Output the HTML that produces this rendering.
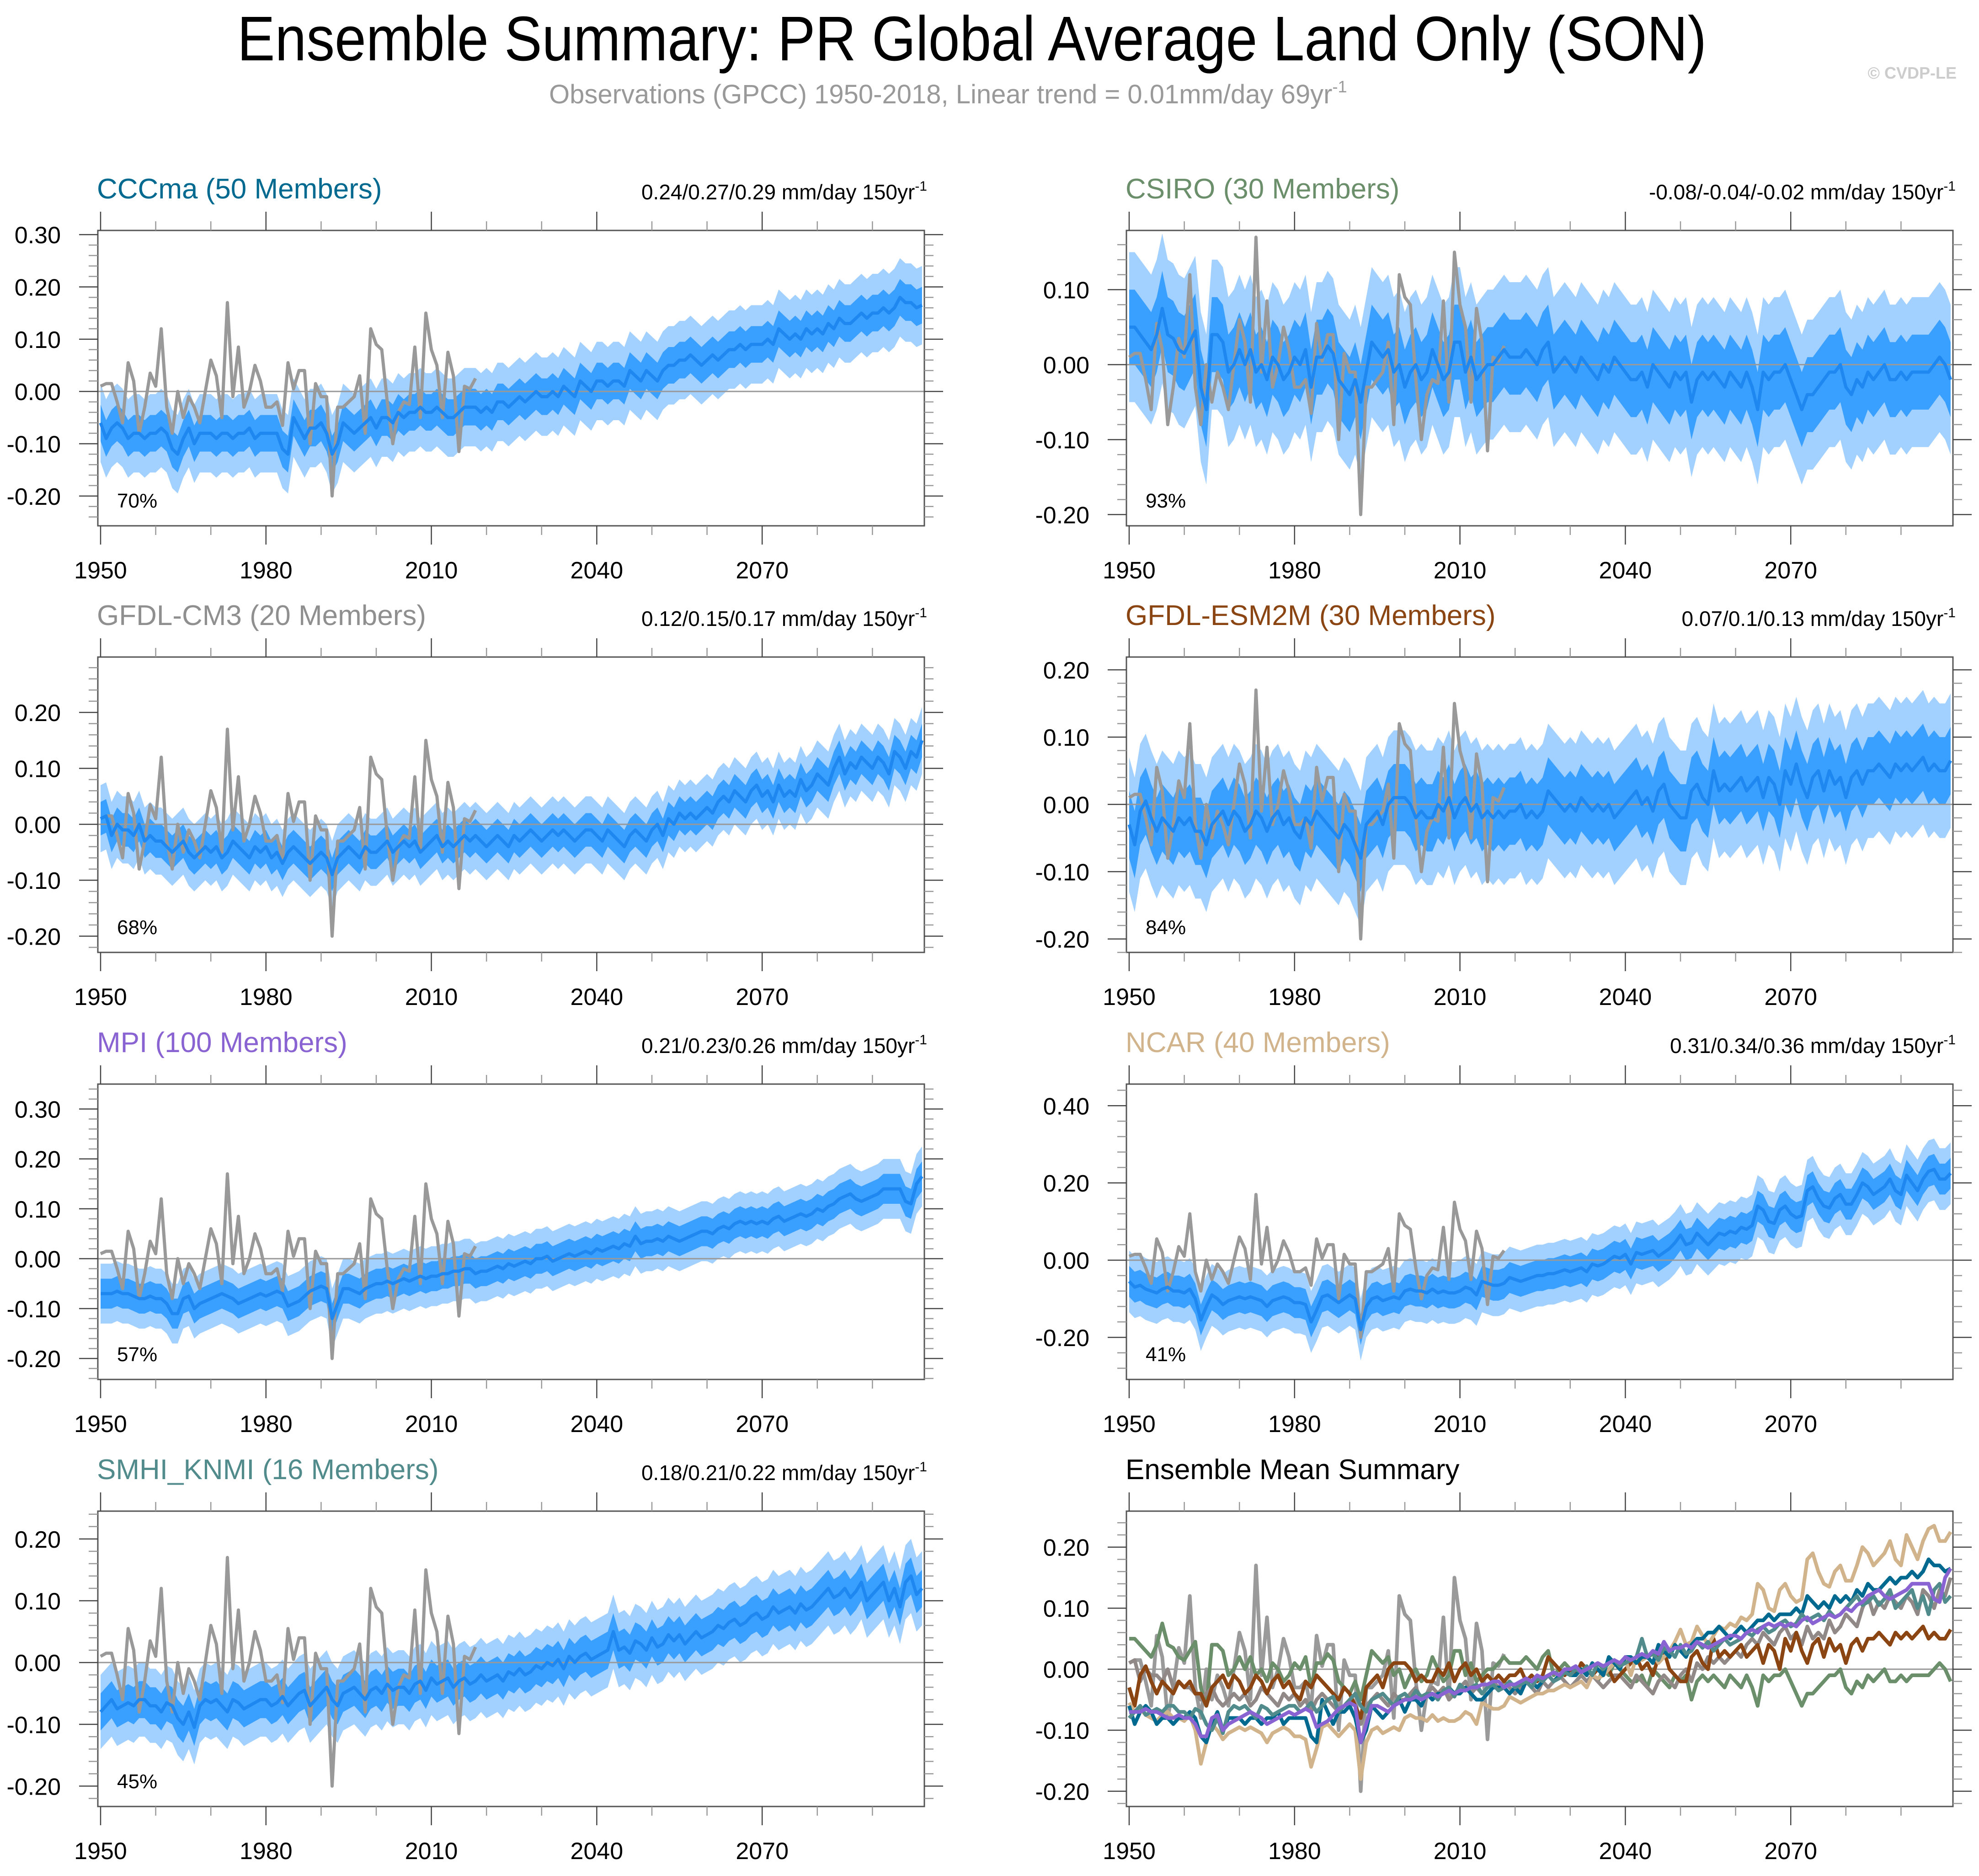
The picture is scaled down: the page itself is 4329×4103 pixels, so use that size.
<!DOCTYPE html>
<html><head><meta charset="utf-8"><title>Ensemble Summary PR</title>
<style>html,body{margin:0;padding:0;background:#fff}svg{display:block}text{font-family:"Liberation Sans",Arial,sans-serif}</style></head>
<body>
<svg id="fig" xmlns="http://www.w3.org/2000/svg" width="4329" height="4103" viewBox="0 0 4329 4103">
<rect x="0" y="0" width="4329" height="4103" fill="#fff"/>
<text x="2126" y="132" font-size="138" text-anchor="middle" textLength="3214" lengthAdjust="spacingAndGlyphs" fill="#000">Ensemble Summary: PR Global Average Land Only (SON)</text>
<text x="1201" y="226" font-size="58" fill="#999">Observations (GPCC) 1950-2018, Linear trend = 0.01mm/day 69yr<tspan dy="-24" font-size="36">-1</tspan></text>
<text x="4280" y="172" font-size="36" font-weight="bold" text-anchor="end" fill="#ccc">© CVDP-LE</text>
<g id="panels"></g>
</svg>
<script>
const years = [];
for (let y = 1950; y <= 2099; y++) years.push(y);
const obsYears = [];
for (let y = 1950; y <= 2018; y++) obsYears.push(y);

const obs = [0.01,0.015,0.015,-0.02,-0.06,0.055,0.02,-0.08,-0.03,0.035,0.01,0.12,-0.03,-0.08,0.0,-0.05,-0.01,-0.03,-0.06,0.0,0.06,0.03,-0.05,0.17,-0.01,0.085,-0.03,0.0,0.05,0.02,-0.03,-0.03,-0.02,-0.065,0.055,0.005,0.04,0.04,-0.1,0.015,-0.01,-0.01,-0.2,-0.03,-0.03,-0.02,-0.01,0.03,-0.08,0.12,0.09,0.08,-0.02,-0.1,-0.04,-0.02,-0.025,0.085,-0.05,0.15,0.08,0.05,-0.05,0.075,0.03,-0.115,0.01,0.005,0.025];

const meanCCCma = [-0.06,-0.09,-0.07,-0.06,-0.07,-0.09,-0.08,-0.08,-0.09,-0.08,-0.08,-0.07,-0.08,-0.11,-0.12,-0.09,-0.07,-0.10,-0.08,-0.08,-0.08,-0.09,-0.08,-0.08,-0.09,-0.08,-0.08,-0.07,-0.09,-0.08,-0.08,-0.08,-0.08,-0.11,-0.12,-0.05,-0.07,-0.09,-0.07,-0.07,-0.06,-0.08,-0.12,-0.10,-0.06,-0.07,-0.08,-0.07,-0.06,-0.05,-0.07,-0.05,-0.05,-0.06,-0.04,-0.05,-0.04,-0.04,-0.03,-0.04,-0.04,-0.03,-0.04,-0.05,-0.05,-0.04,-0.03,-0.03,-0.03,-0.04,-0.03,-0.04,-0.02,-0.02,-0.03,-0.02,-0.01,-0.02,-0.01,0.0,-0.01,-0.01,0.0,-0.01,0.01,0.0,-0.01,0.02,0.01,0.0,0.02,0.02,0.01,0.02,0.02,0.01,0.04,0.03,0.02,0.04,0.03,0.02,0.04,0.05,0.05,0.06,0.06,0.07,0.06,0.05,0.06,0.07,0.06,0.07,0.08,0.08,0.09,0.08,0.09,0.09,0.09,0.10,0.09,0.12,0.11,0.10,0.11,0.10,0.12,0.11,0.12,0.11,0.13,0.12,0.14,0.13,0.13,0.14,0.15,0.14,0.15,0.15,0.16,0.15,0.16,0.18,0.17,0.17,0.16,0.165];
const meanCSIRO = [0.05,0.05,0.04,0.03,0.02,0.04,0.075,0.04,0.035,0.02,0.015,0.03,0.045,-0.03,-0.06,0.04,0.04,0.03,-0.01,0.0,0.02,0.0,0.02,-0.01,0.0,-0.02,0.01,0.0,-0.02,-0.01,0.01,0.0,0.02,-0.03,0.01,0.01,0.025,0.015,-0.02,-0.03,-0.04,-0.02,-0.05,-0.01,0.03,0.02,0.01,0.02,-0.01,0.0,-0.03,-0.01,0.0,-0.02,-0.01,0.02,0.0,-0.02,-0.01,0.03,0.03,-0.01,0.01,-0.02,-0.01,0.0,0.0,0.01,0.02,0.01,0.01,0.01,0.02,0.01,0.0,0.02,0.03,-0.01,0.0,0.01,0.0,-0.01,0.01,0.0,-0.01,-0.02,0.0,-0.01,0.01,0.0,-0.01,-0.02,-0.02,-0.01,-0.03,0.0,-0.01,-0.02,-0.03,-0.01,-0.02,-0.01,-0.05,-0.02,-0.01,-0.02,-0.01,-0.02,-0.03,-0.01,-0.02,-0.03,-0.01,-0.03,-0.06,-0.01,-0.02,-0.01,-0.01,0.0,-0.02,-0.04,-0.06,-0.04,-0.04,-0.03,-0.02,-0.01,-0.01,0.0,-0.03,-0.04,-0.02,-0.03,-0.01,-0.02,-0.01,0.0,-0.02,-0.02,-0.01,-0.02,-0.01,-0.01,-0.01,-0.01,0.0,0.01,0.0,-0.02];
const meanGFDLCM3 = [0.01,0.015,-0.02,0.0,-0.01,-0.01,-0.02,0.0,-0.03,-0.02,-0.03,-0.03,-0.04,-0.05,-0.04,-0.03,-0.05,-0.06,-0.05,-0.04,-0.05,-0.04,-0.06,-0.05,-0.03,-0.04,-0.05,-0.06,-0.04,-0.05,-0.04,-0.06,-0.05,-0.07,-0.05,-0.04,-0.05,-0.06,-0.07,-0.06,-0.05,-0.06,-0.09,-0.06,-0.05,-0.04,-0.05,-0.06,-0.04,-0.05,-0.05,-0.04,-0.03,-0.05,-0.04,-0.03,-0.04,-0.03,-0.05,-0.04,-0.03,-0.02,-0.04,-0.03,-0.04,-0.03,-0.02,-0.03,-0.02,-0.03,-0.04,-0.03,-0.02,-0.03,-0.04,-0.02,-0.03,-0.02,-0.01,-0.02,-0.03,-0.02,-0.01,-0.02,-0.01,-0.02,-0.03,-0.02,-0.01,-0.01,-0.02,-0.03,-0.01,-0.02,-0.03,-0.04,-0.02,-0.01,-0.02,-0.03,-0.01,0.0,-0.02,0.01,0.0,0.02,0.01,0.02,0.01,0.02,0.03,0.02,0.04,0.05,0.04,0.06,0.05,0.04,0.06,0.07,0.05,0.06,0.04,0.07,0.05,0.06,0.05,0.08,0.06,0.07,0.09,0.08,0.07,0.10,0.12,0.09,0.11,0.10,0.12,0.11,0.10,0.12,0.11,0.09,0.13,0.12,0.10,0.13,0.12,0.15];
const meanGFDLESM2M = [-0.03,-0.06,-0.01,0.005,-0.02,-0.04,-0.02,-0.03,-0.04,-0.02,-0.03,-0.02,-0.04,-0.04,-0.06,-0.03,-0.02,-0.01,-0.03,-0.01,-0.02,-0.04,-0.03,-0.01,-0.02,-0.04,-0.02,-0.01,-0.03,-0.02,-0.04,-0.05,-0.02,-0.03,-0.01,-0.02,-0.03,-0.04,-0.05,-0.03,-0.04,-0.06,-0.08,-0.03,-0.02,-0.01,-0.03,0.0,0.01,0.01,0.01,0.0,-0.02,-0.01,-0.02,-0.02,0.0,-0.01,0.01,-0.02,0.0,0.01,-0.01,0.0,-0.02,-0.01,-0.02,-0.01,-0.02,-0.01,-0.01,0.0,-0.02,-0.01,-0.02,-0.01,0.02,0.01,0.0,-0.01,0.0,-0.01,0.01,0.0,-0.01,0.0,-0.01,0.0,-0.02,-0.01,0.0,0.01,0.02,0.0,0.01,-0.01,0.02,0.03,0.0,-0.01,-0.02,-0.02,0.02,0.03,0.01,0.0,0.05,0.02,0.03,0.02,0.03,0.04,0.02,0.03,0.04,0.01,0.04,0.03,0.0,0.05,0.03,0.06,0.03,0.01,0.04,0.05,0.02,0.05,0.03,0.04,0.01,0.04,0.05,0.03,0.05,0.05,0.06,0.05,0.04,0.06,0.05,0.06,0.05,0.06,0.07,0.05,0.06,0.05,0.05,0.065];
const meanMPI = [-0.07,-0.07,-0.07,-0.065,-0.07,-0.07,-0.075,-0.08,-0.08,-0.075,-0.08,-0.08,-0.09,-0.11,-0.11,-0.08,-0.075,-0.10,-0.09,-0.085,-0.08,-0.075,-0.07,-0.075,-0.08,-0.09,-0.085,-0.08,-0.075,-0.07,-0.075,-0.07,-0.065,-0.07,-0.095,-0.09,-0.085,-0.075,-0.065,-0.06,-0.055,-0.06,-0.12,-0.09,-0.06,-0.06,-0.065,-0.07,-0.06,-0.055,-0.05,-0.05,-0.045,-0.05,-0.045,-0.04,-0.045,-0.04,-0.035,-0.04,-0.035,-0.035,-0.03,-0.03,-0.025,-0.025,-0.02,-0.02,-0.03,-0.025,-0.025,-0.02,-0.015,-0.02,-0.01,-0.015,-0.01,-0.005,-0.01,0.0,0.0,0.005,-0.005,0.0,0.005,0.01,0.005,0.01,0.015,0.01,0.02,0.015,0.02,0.025,0.02,0.03,0.025,0.045,0.03,0.035,0.035,0.04,0.035,0.045,0.04,0.035,0.04,0.045,0.05,0.055,0.055,0.05,0.06,0.065,0.06,0.07,0.075,0.07,0.075,0.07,0.075,0.07,0.08,0.085,0.075,0.08,0.085,0.09,0.085,0.09,0.10,0.095,0.105,0.11,0.12,0.125,0.13,0.12,0.115,0.12,0.125,0.13,0.14,0.14,0.14,0.14,0.115,0.11,0.15,0.165];
const meanNCAR = [-0.055,-0.07,-0.065,-0.075,-0.08,-0.085,-0.075,-0.07,-0.08,-0.08,-0.085,-0.075,-0.10,-0.155,-0.12,-0.09,-0.10,-0.115,-0.105,-0.10,-0.095,-0.10,-0.095,-0.10,-0.105,-0.12,-0.105,-0.10,-0.095,-0.10,-0.11,-0.11,-0.115,-0.16,-0.13,-0.095,-0.09,-0.10,-0.11,-0.10,-0.09,-0.10,-0.18,-0.12,-0.10,-0.095,-0.105,-0.10,-0.095,-0.10,-0.08,-0.075,-0.08,-0.08,-0.085,-0.075,-0.085,-0.08,-0.085,-0.085,-0.08,-0.07,-0.075,-0.09,-0.055,-0.06,-0.065,-0.065,-0.06,-0.045,-0.05,-0.055,-0.05,-0.045,-0.04,-0.04,-0.035,-0.035,-0.03,-0.025,-0.03,-0.025,-0.02,-0.03,-0.01,-0.015,-0.01,0.0,0.01,0.005,0.015,-0.01,0.02,0.015,0.02,0.025,0.01,0.02,0.03,0.045,0.065,0.04,0.045,0.07,0.055,0.04,0.055,0.07,0.065,0.075,0.07,0.085,0.08,0.09,0.14,0.13,0.10,0.095,0.13,0.14,0.12,0.11,0.115,0.18,0.19,0.16,0.14,0.135,0.16,0.17,0.145,0.145,0.17,0.20,0.19,0.17,0.18,0.19,0.21,0.18,0.17,0.22,0.20,0.18,0.21,0.23,0.235,0.21,0.21,0.225];
const meanSMHI = [-0.08,-0.07,-0.06,-0.075,-0.07,-0.065,-0.07,-0.06,-0.06,-0.07,-0.07,-0.08,-0.065,-0.07,-0.09,-0.10,-0.08,-0.105,-0.07,-0.06,-0.065,-0.06,-0.07,-0.08,-0.06,-0.065,-0.075,-0.07,-0.065,-0.06,-0.06,-0.07,-0.065,-0.055,-0.07,-0.06,-0.05,-0.045,-0.07,-0.06,-0.05,-0.04,-0.06,-0.07,-0.05,-0.045,-0.04,-0.05,-0.06,-0.045,-0.04,-0.05,-0.035,-0.045,-0.04,-0.04,-0.05,-0.035,-0.03,-0.045,-0.025,-0.035,-0.03,-0.025,-0.04,-0.03,-0.025,-0.035,-0.03,-0.02,-0.03,-0.025,-0.02,-0.03,-0.015,-0.02,-0.01,-0.02,-0.015,-0.005,-0.01,0.0,-0.005,0.005,-0.01,0.01,0.0,0.01,0.015,0.005,0.01,0.015,0.02,0.05,0.02,0.025,0.015,0.035,0.03,0.02,0.04,0.025,0.03,0.045,0.035,0.045,0.03,0.04,0.05,0.04,0.045,0.05,0.06,0.055,0.065,0.07,0.06,0.065,0.075,0.08,0.07,0.075,0.09,0.08,0.085,0.09,0.08,0.095,0.085,0.09,0.10,0.11,0.12,0.105,0.11,0.12,0.105,0.115,0.13,0.10,0.11,0.12,0.13,0.10,0.12,0.09,0.13,0.14,0.11,0.12];

const innerSpread = [0.035,0.05,0.03,0.05,0.03,0.04,0.03];
const outerSpread = [0.075,0.10,0.06,0.10,0.06,0.08,0.06];
const modelNames = ["CCCma (50 Members)","CSIRO (30 Members)","GFDL-CM3 (20 Members)","GFDL-ESM2M (30 Members)","MPI (100 Members)","NCAR (40 Members)","SMHI_KNMI (16 Members)"];
const trendLabels = ["0.24/0.27/0.29 mm/day 150yr","-0.08/-0.04/-0.02 mm/day 150yr","0.12/0.15/0.17 mm/day 150yr","0.07/0.1/0.13 mm/day 150yr","0.21/0.23/0.26 mm/day 150yr","0.31/0.34/0.36 mm/day 150yr","0.18/0.21/0.22 mm/day 150yr"];
const pctLabels = ["70%","93%","68%","84%","57%","41%","45%"];
const yMaxs = [0.308,0.179,0.299,0.219,0.350,0.456,0.245,0.259];
const yMins = [-0.257,-0.215,-0.229,-0.220,-0.242,-0.309,-0.233,-0.225];
const yTickLabels = [
 ["-0.20","-0.10","0.00","0.10","0.20","0.30"],
 ["-0.20","-0.10","0.00","0.10"],
 ["-0.20","-0.10","0.00","0.10","0.20"],
 ["-0.20","-0.10","0.00","0.10","0.20"],
 ["-0.20","-0.10","0.00","0.10","0.20","0.30"],
 ["-0.20","0.00","0.20","0.40"],
 ["-0.20","-0.10","0.00","0.10","0.20"],
 ["-0.20","-0.10","0.00","0.10","0.20"]];
const xTickLabels = ["1950","1980","2010","2040","2070"];
const titleColors = ["#00698f","#6b8e6b","#8f8f8f","#8b4513","#8a63d2","#d2b48c","#528b8b"];
const lineColors = ["#00698f","#6b8e6b","#918888","#8b4513","#8a63d2","#d2b48c","#528b8b"];
const means = [meanCCCma,meanCSIRO,meanGFDLCM3,meanGFDLESM2M,meanMPI,meanNCAR,meanSMHI];

const NS = "http://www.w3.org/2000/svg";
const root = document.getElementById('panels');
function mk(tag, attrs, parent) {
  const e = document.createElementNS(NS, tag);
  for (const k in attrs) e.setAttribute(k, attrs[k]);
  (parent || root).appendChild(e);
  return e;
}
const colLeft = [214, 2464];
const boxW = 1808, boxH = 646;
const rowTop = [504, 1437, 2371, 3305];
const yrPx = 12.06;

for (let p = 0; p < 8; p++) {
  const L = colLeft[p % 2], T = rowTop[Math.floor(p / 2)];
  const g = mk('g', {});
  
  
  const xs = yr => L + 6 + (yr - 1950) * yrPx;
  const ys = v => T + (yMaxs[p] - v) / (yMaxs[p] - yMins[p]) * boxH;
  const clipId = 'clip' + p;
  const cp = mk('clipPath', {id: clipId}, g);
  mk('rect', {x: L, y: T, width: boxW, height: boxH}, cp);
  const plot = mk('g', {'clip-path': 'url(#' + clipId + ')'}, g);

  if (p < 7) {
    const m = means[p];
    const band = (w, col, name) => {
      let d = '';
      years.forEach((yr, i) => { d += (i ? 'L' : 'M') + xs(yr).toFixed(1) + ',' + ys(m[i] + w).toFixed(1); });
      for (let i = years.length - 1; i >= 0; i--) d += 'L' + xs(years[i]).toFixed(1) + ',' + ys(m[i] - w).toFixed(1);
      const e = mk('path', {d: d + 'Z', fill: col}, plot);
      
      
    };
    band(outerSpread[p], '#a2d0ff', 'outer-spread-band');
    band(innerSpread[p], '#3aa0ff', 'inner-spread-band');
  }
  const zl = mk('line', {x1: L, x2: L + boxW, y1: ys(0), y2: ys(0), stroke: '#999', 'stroke-width': 3}, plot);
  
  

  const line = (arr, yrs, col, w, name) => {
    let d = '';
    yrs.forEach((yr, i) => { d += (i ? 'L' : 'M') + xs(yr).toFixed(1) + ',' + ys(arr[i]).toFixed(1); });
    const e = mk('path', {d: d, fill: 'none', stroke: col, 'stroke-width': w, 'stroke-linejoin': 'round'}, plot);
    
    
  };
  if (p < 7) {
    line(obs, obsYears, '#999999', 7, 'observations-line');
    line(means[p], years, '#1e88f0', 7, 'ensemble-mean-line');
  } else {
    line(obs, obsYears, '#9a9a9a', 8, 'observations-line');
    const order = [1, 2, 3, 5, 0, 6, 4];
    order.forEach(k => line(means[k], years, lineColors[k], 8, 'mean-line-' + modelNames[k].split(' ')[0].toLowerCase().replace('_','-')));
  }

  const bx = mk('rect', {x: L, y: T, width: boxW, height: boxH, fill: 'none', stroke: '#555', 'stroke-width': 3}, g);
  
  

  const yTicks = yTickLabels[p].map(Number);
  const step = p === 5 ? 0.04 : 0.02;
  for (let v = Math.ceil(yMins[p] / step) * step; v <= yMaxs[p] + 1e-9; v += step) {
    const y = ys(v);
    const major = yTicks.some(t => Math.abs(t - v) < 1e-6);
    const len = major ? 41 : 20;
    mk('line', {x1: L - len, x2: L, y1: y, y2: y, stroke: major ? '#444' : '#999', 'stroke-width': 2.5}, g);
    mk('line', {x1: L + boxW, x2: L + boxW + len, y1: y, y2: y, stroke: major ? '#444' : '#999', 'stroke-width': 2.5}, g);
  }
  yTickLabels[p].forEach(lbl => {
    const t = mk('text', {x: L - 81, y: ys(Number(lbl)) + 19, 'font-size': 52, 'text-anchor': 'end', fill: '#000'}, g);
    t.textContent = lbl;
    
    
  });
  for (let yr = 1950; yr <= 2099; yr += 10) {
    const x = xs(yr);
    const major = (yr - 1950) % 30 === 0;
    const len = major ? 41 : 20;
    const c = major ? '#444' : '#999';
    mk('line', {x1: x, x2: x, y1: T - len, y2: T, stroke: c, 'stroke-width': 2.5}, g);
    mk('line', {x1: x, x2: x, y1: T + boxH, y2: T + boxH + len, stroke: c, 'stroke-width': 2.5}, g);
  }
  xTickLabels.forEach(lbl => {
    const t = mk('text', {x: xs(Number(lbl)), y: T + 761, 'font-size': 52, 'text-anchor': 'middle', fill: '#000'}, g);
    t.textContent = lbl;
    
    
  });
  const tt = mk('text', {x: L - 2, y: T - 70, 'font-size': 62, fill: p < 7 ? titleColors[p] : '#000'}, g);
  tt.textContent = p < 7 ? modelNames[p] : 'Ensemble Mean Summary';
  
  
  if (p < 7) {
    const tr = mk('text', {x: L + boxW + 6, y: T - 68, 'font-size': 46, 'text-anchor': 'end', fill: '#000'}, g);
    tr.textContent = trendLabels[p];
    const sup = mk('tspan', {dy: -19, 'font-size': 30}, tr);
    sup.textContent = '-1';
    
    
    const pc = mk('text', {x: L + 42, y: T + boxH - 40, 'font-size': 44, fill: '#000'}, g);
    pc.textContent = pctLabels[p];
    
    
  }
}
</script>
</body></html>
